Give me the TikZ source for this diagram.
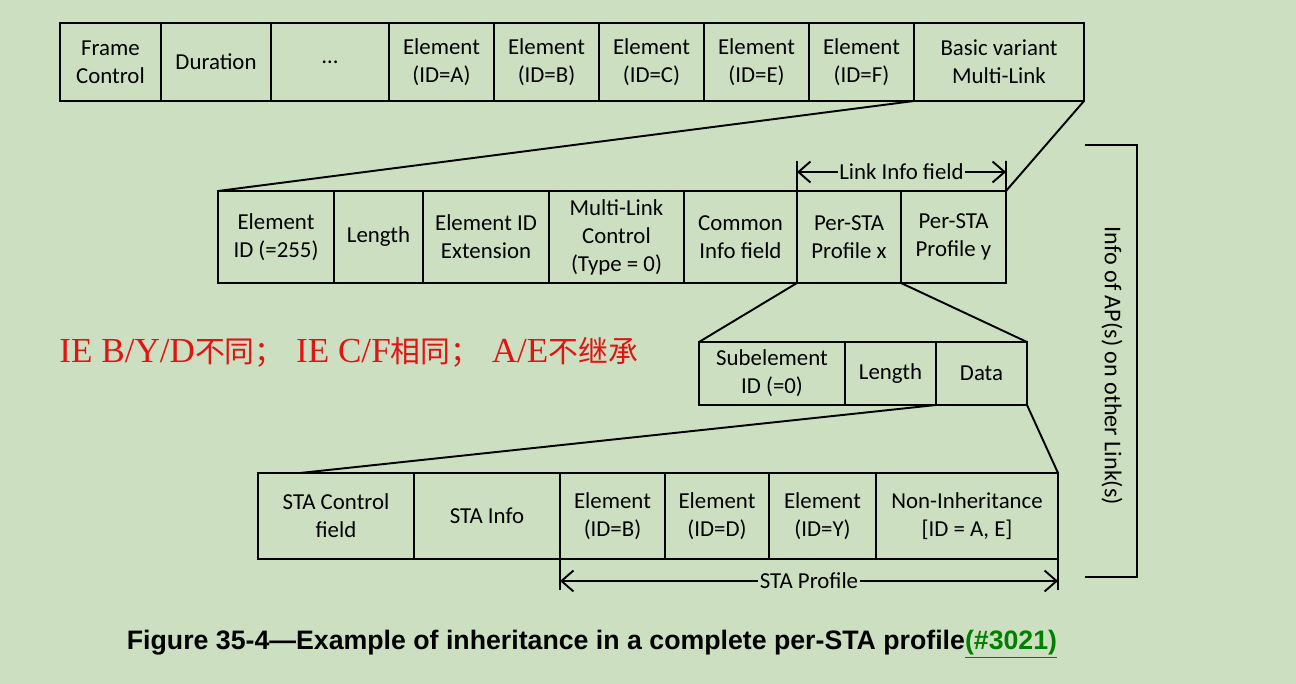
\documentclass[tikz,border=0pt]{standalone}
\usepackage{fontspec}
\setmainfont{Carlito}
\newfontfamily\capfont{Liberation Sans}
\newfontfamily\notefont{Liberation Serif}
\newfontfamily\cjk{Noto Sans CJK SC}
\usetikzlibrary{arrows.meta}

\definecolor{bggreen}{RGB}{204,224,193}
\definecolor{notered}{RGB}{225,20,20}
\definecolor{linkgreen}{RGB}{0,128,0}

\tikzset{
  field/.style 2 args={draw, line width=1.1pt, inner sep=0pt, outer sep=0pt,
    anchor=north west, minimum width=#1*0.2mm, minimum height=#2*0.2mm,
    align=center, font=\fontsize{13}{15.9}\selectfont},
  thin line/.style={line width=1.1pt},
}

\begin{document}
\begin{tikzpicture}[x=0.2mm, y=-0.2mm, >={Straight Barb[length=2.4mm,width=4.2mm]}]

% background and size
\fill[bggreen] (0,0) rectangle (1296,684);
\useasboundingbox (0,0) rectangle (1296,684);

% Frame
\node[field={101}{78}] (fc) at (60,23) {Frame\\Control};
\node[field={110}{78}] (dur) at (161,23) {Duration};
\node[field={118}{78}] (dots) at (271,23) {\dots};
\node[field={105}{78}] (ieA) at (389,23) {Element\\(ID=A)};
\node[field={105}{78}] (ieB) at (494,23) {Element\\(ID=B)};
\node[field={105}{78}] (ieC) at (599,23) {Element\\(ID=C)};
\node[field={105}{78}] (ieE) at (704,23) {Element\\(ID=E)};
\node[field={105}{78}] (ieF) at (809,23) {Element\\(ID=F)};
\node[field={170}{78}] (ml) at (914,23) {Basic variant\\Multi-Link};

% Basic variant Multi-Link element
\node[field={116}{92}] (eid) at (218,191) {Element\\ID (=255)};
\node[field={89}{92}] (len) at (334,191) {Length};
\node[field={126}{92}] (ext) at (423,191) {Element ID\\Extension};
\node[field={135}{92}] (ctrl) at (549,191) {Multi-Link\\Control\\(Type = 0)};
\node[field={113}{92}] (cinfo) at (684,191) {Common\\Info field};
\node[field={104}{92}] (psx) at (797,191) {Per-STA\\Profile x};
\node[field={105}{92}] (psy) at (901,191) {Per-STA\\Profile y};

\draw[thin line] (ieF.south east) -- (eid.north west);
\draw[thin line] (ml.south east) -- (psy.north east);

% Link Info field
\coordinate (lia) at (797,161);
\coordinate (lib) at (1006,161);
\draw[thin line] (psx.north west) -- (lia);
\draw[thin line] (psy.north east) -- (lib);
\draw[thin line, <->] (797,172) -- (1006,172)
  node[midway, fill=bggreen, inner sep=1pt, font=\fontsize{13}{15.9}\selectfont] (linkinfo) {Link Info field};

% Per-STA Profile subelement
\node[field={146}{63}] (subid) at (699,342) {Subelement\\ID (=0)};
\node[field={91}{63}] (sublen) at (845,342) {Length};
\node[field={91}{63}] (data) at (936,342) {Data};

\draw[thin line] (psx.south west) -- (subid.north west);
\draw[thin line] (psx.south east) -- (data.north east);

% Data of Per-STA Profile x
\node[field={156}{86}] (stactrl) at (258,473) {STA Control\\field};
\node[field={146}{86}] (stainfo) at (414,473) {STA Info};
\node[field={105}{86}] (peB) at (560,473) {Element\\(ID=B)};
\node[field={104}{86}] (peD) at (665,473) {Element\\(ID=D)};
\node[field={107}{86}] (peY) at (769,473) {Element\\(ID=Y)};
\node[field={182}{86}] (nonin) at (876,473) {Non-Inheritance\\{[ID = A, E]}};

\coordinate (dataend) at (300,473);
\draw[thin line] (data.south west) -- (dataend);
\draw[thin line] (data.south east) -- (nonin.north east);

% STA Profile
\coordinate (spa) at (560,590);
\coordinate (spb) at (1058,590);
\draw[thin line] (peB.south west) -- (spa);
\draw[thin line] (nonin.south east) -- (spb);
\draw[thin line, <->] (560,581) -- (1058,581)
  node[midway, fill=bggreen, inner sep=1pt, font=\fontsize{13}{15.9}\selectfont] (staprof) {STA Profile};

% bracket for other links
\coordinate (bt) at (1085,145);
\coordinate (bb) at (1085,577);
\draw[thin line] (bt) -- ++(52,0) |- (bb);
\node[rotate=-90, font=\fontsize{13.7}{16}\selectfont] (other) at (1112,366) {Info of AP(s) on other Link(s)};

% note in red
\node[anchor=west, text=notered, inner sep=0pt] (note) at (59,352)
  {\fontsize{20}{22}\selectfont\notefont IE B/Y/D\fontsize{17}{20}\selectfont\cjk 不同；\hspace{6.5pt}%
   \fontsize{20}{22}\selectfont\notefont IE C/F\fontsize{17}{20}\selectfont\cjk 相同；\hspace{6.5pt}%
   \fontsize{20}{22}\selectfont\notefont A/E\fontsize{17}{20}\selectfont\cjk 不继承};

% caption
\node[font=\capfont\bfseries\fontsize{15.2}{18}\selectfont] (caption) at (592,644)
  {Figure 35-4—Example of inheritance in a complete per-STA profile\textcolor{linkgreen}{\underline{(\#3021)}}};

\end{tikzpicture}
\end{document}
